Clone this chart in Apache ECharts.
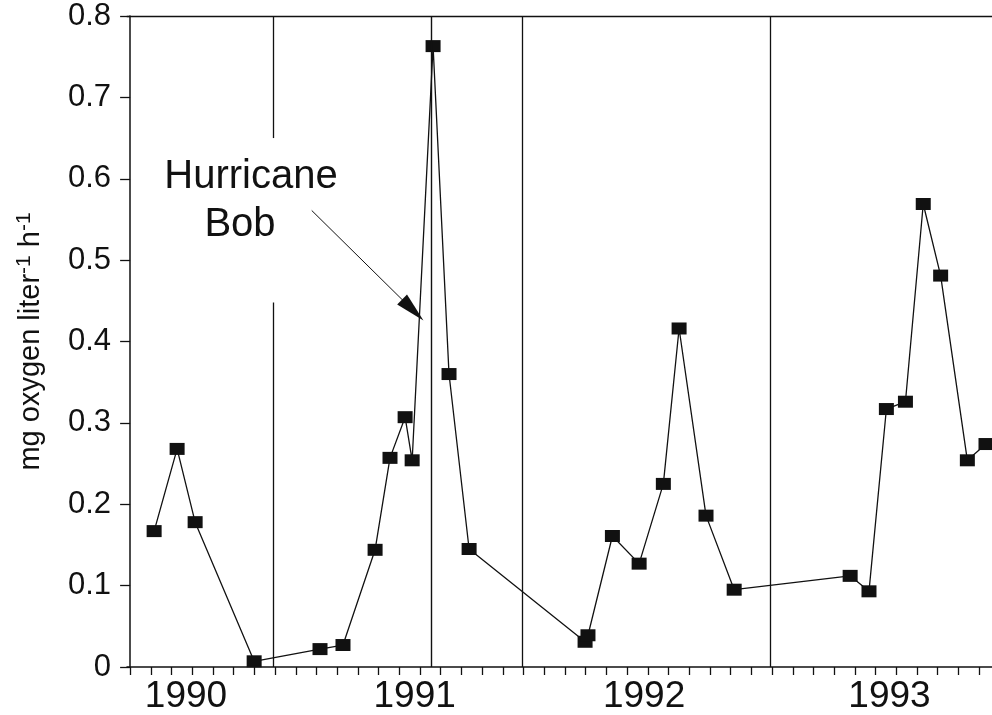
<!DOCTYPE html>
<html>
<head>
<meta charset="utf-8">
<script src="https://cdn.jsdelivr.net/npm/echarts@6/dist/echarts.min.js"></script>
<style>
  html, body { margin: 0; padding: 0; background: #fff; }
  #chart { width: 992px; height: 715px; }
</style>
</head>
<body>
<div id="chart"></div>
<script>
// x = months along the axis (tick 0 = first monthly tick)
const months = [1.16, 2.27, 3.14, 5.99, 9.17, 10.28, 11.83, 12.55, 13.28, 13.62, 14.63, 15.40, 16.37,
                21.97, 22.11, 23.29, 24.58, 25.75, 26.51, 27.81, 29.17,
                34.77, 35.68, 36.52, 37.44, 38.30, 39.14, 40.43, 41.33];
const rates = [0.167, 0.268, 0.178, 0.007, 0.022, 0.027, 0.144, 0.257, 0.307, 0.254, 0.763, 0.360, 0.145,
               0.031, 0.039, 0.161, 0.127, 0.225, 0.416, 0.186, 0.095,
               0.112, 0.093, 0.317, 0.326, 0.569, 0.481, 0.254, 0.274];
const yearLabels = ['1990', '1991', '1992', '1993'];
const yearLabelAt = [2.7, 13.74, 24.82, 36.67];
const monthTicks = Array.from({length: 42}, (_, i) => i);
const seasonLines = [18.95, 30.9];
const firstLine = 6.9;
const hurricaneAt = 14.52;
const annotationText = ['Hurricane', 'Bob'];
const arrowFrom = [8.77, 0.561];
const arrowTo = [13.65, 0.4386];

const chart = echarts.init(document.getElementById('chart'), null, {renderer: 'canvas'});
const FONT = '"Liberation Sans", Arial, Helvetica, sans-serif';
const black = '#111';

const option = {
  animation: false,
  backgroundColor: '#fff',
  grid: { left: 127, right: 0, top: 16, bottom: 48, containLabel: false },
  xAxis: [{
    type: 'value', min: -0.15, max: 41.62,
    axisLine: { show: true, lineStyle: { color: black, width: 1.5 } },
    axisTick: { show: true, customValues: monthTicks, length: 8, inside: false, lineStyle: { color: black, width: 1.3 } },
    axisLabel: {
      show: true, customValues: yearLabelAt, margin: 11,
      fontFamily: FONT, fontSize: 37, color: black,
      formatter: v => { const i = yearLabelAt.findIndex(p => Math.abs(p - v) < 1e-6); return i >= 0 ? yearLabels[i] : ''; }
    },
    splitLine: { show: false }
  }, {
    type: 'value', position: 'top', min: -0.15, max: 41.62,
    axisLine: { show: true, lineStyle: { color: black, width: 1.3 } },
    axisTick: { show: false }, axisLabel: { show: false }, splitLine: { show: false }
  }],
  yAxis: {
    type: 'value', min: 0, max: 0.8, interval: 0.1,
    axisLine: { show: true, lineStyle: { color: black, width: 1.5 } },
    axisTick: { show: true, length: 10, lineStyle: { color: black, width: 1.3 } },
    axisLabel: { margin: 16, fontFamily: FONT, fontSize: 31, color: black,
      formatter: v => v === 0 ? '0' : v.toFixed(1) },
    splitLine: { show: false },
    name: 'mg oxygen liter{sup|-1} h{sup|-1}',
    nameLocation: 'middle', nameRotate: 90, nameGap: 80,
    nameTextStyle: {
      fontFamily: FONT, fontSize: 29, color: black,
      rich: { sup: { fontFamily: FONT, fontSize: 21, color: black, padding: [0, 0, 12, 0] } }
    }
  },
  graphic: [
    { type: 'text', x: 251, y: 177, style: { text: annotationText[0], font: '40px ' + FONT, fill: black, align: 'center', verticalAlign: 'middle' } },
    { type: 'text', x: 240, y: 225, style: { text: annotationText[1], font: '40px ' + FONT, fill: black, align: 'center', verticalAlign: 'middle' } }
  ],
  series: [{
    type: 'line',
    xAxisIndex: 0,
    data: months.map((m, i) => [m, rates[i]]),
    symbol: 'rect', symbolSize: [15, 12],
    itemStyle: { color: black },
    lineStyle: { color: black, width: 1.3 },
    emphasis: { disabled: true },
    z: 3,
    markLine: {
      silent: true, animation: false,
      symbol: ['none', 'none'],
      label: { show: false },
      emphasis: { disabled: true },
      lineStyle: { color: black, width: 1.3, type: 'solid' },
      data: [
        [{ coord: [firstLine, 0.8] }, { coord: [firstLine, 0.65] }],
        [{ coord: [firstLine, 0.448] }, { coord: [firstLine, 0] }],
        ...seasonLines.map(x => ({ xAxis: x })),
        { xAxis: hurricaneAt, lineStyle: { width: 1.4 } },
        [{ coord: arrowFrom, symbol: 'none', lineStyle: { width: 1 } },
         { coord: arrowTo, symbol: 'triangle', symbolSize: [14, 30] }]
      ]
    }
  }]
};
chart.setOption(option);
</script>
</body>
</html>
